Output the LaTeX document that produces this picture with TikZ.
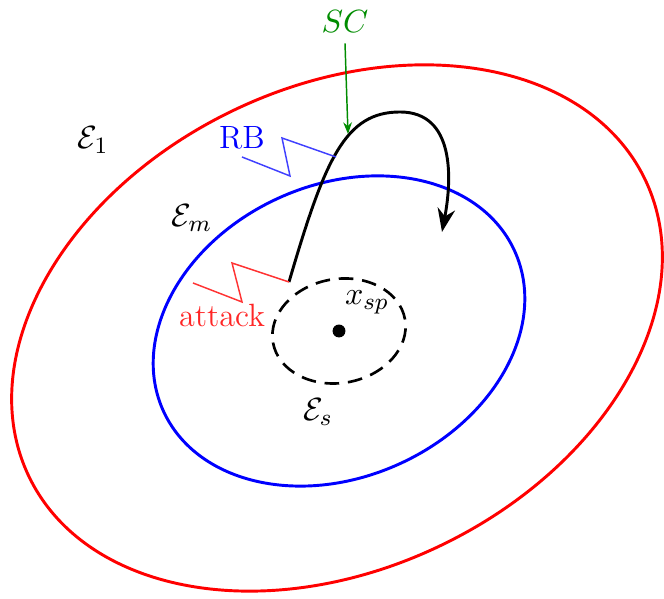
\documentclass[tikz,border=0pt]{standalone}
\usepackage{amsmath}
\usetikzlibrary{arrows.meta}
\begin{document}
\begin{tikzpicture}[x=0.012cm,y=0.012cm,font=\fontsize{11}{13}\selectfont,
    zigzag/.style={line width=0.5pt}]
        \useasboundingbox (0,0) rectangle (664,599);
        \coordinate (xsp) at (339,268);
        % sets
        \draw[red,line width=1pt] (337,271) ellipse[x radius=342,y radius=241,rotate=25.8];
        \draw[blue,line width=1pt] (xsp) ellipse[x radius=193,y radius=146,rotate=24.5];
        \draw[dashed,line width=0.9pt,dash pattern=on 5pt off 3pt] (xsp) ellipse[x radius=67,y radius=52,rotate=10];
        \fill (xsp) circle (2.2pt);
        % trajectory
        \coordinate (start) at (289,317);
        \coordinate (top) at (400,487);
        \coordinate (stop) at (442,367);
        \coordinate (hit) at (348,465);
        \coordinate (rb) at (336,442);
        \draw[line width=1pt,-{Stealth[length=8pt,width=6pt]}] (start) .. controls (325,440) and (345,487) .. (top)
            .. controls (455,487) and (452,420) .. (stop);
        % labels
        \node (E1) at (93,459) {$\mathcal{E}_1$};
        \node (Em) at (192,381) {$\mathcal{E}_m$};
        \node (Es) at (318,187) {$\mathcal{E}_s$};
        \node (x) at (367,297) {$x_{sp}$};
        \node[green!55!black] (SC) at (345,577) {$SC$};
        \node[blue] (RB) at (242,461) {RB};
        \node[red!85] (att) at (222,284) {attack};
        \draw[green!55!black,line width=0.5pt,-{Stealth[length=4pt,width=3pt]}] (SC.south) -- (hit);
        \draw[zigzag,blue!75] (rb) -- (282,461) -- (290,423) -- (242,442);
        \draw[zigzag,red!80] (start) -- (232,336) -- (242,297) -- (193,316);
\end{tikzpicture}
\end{document}
